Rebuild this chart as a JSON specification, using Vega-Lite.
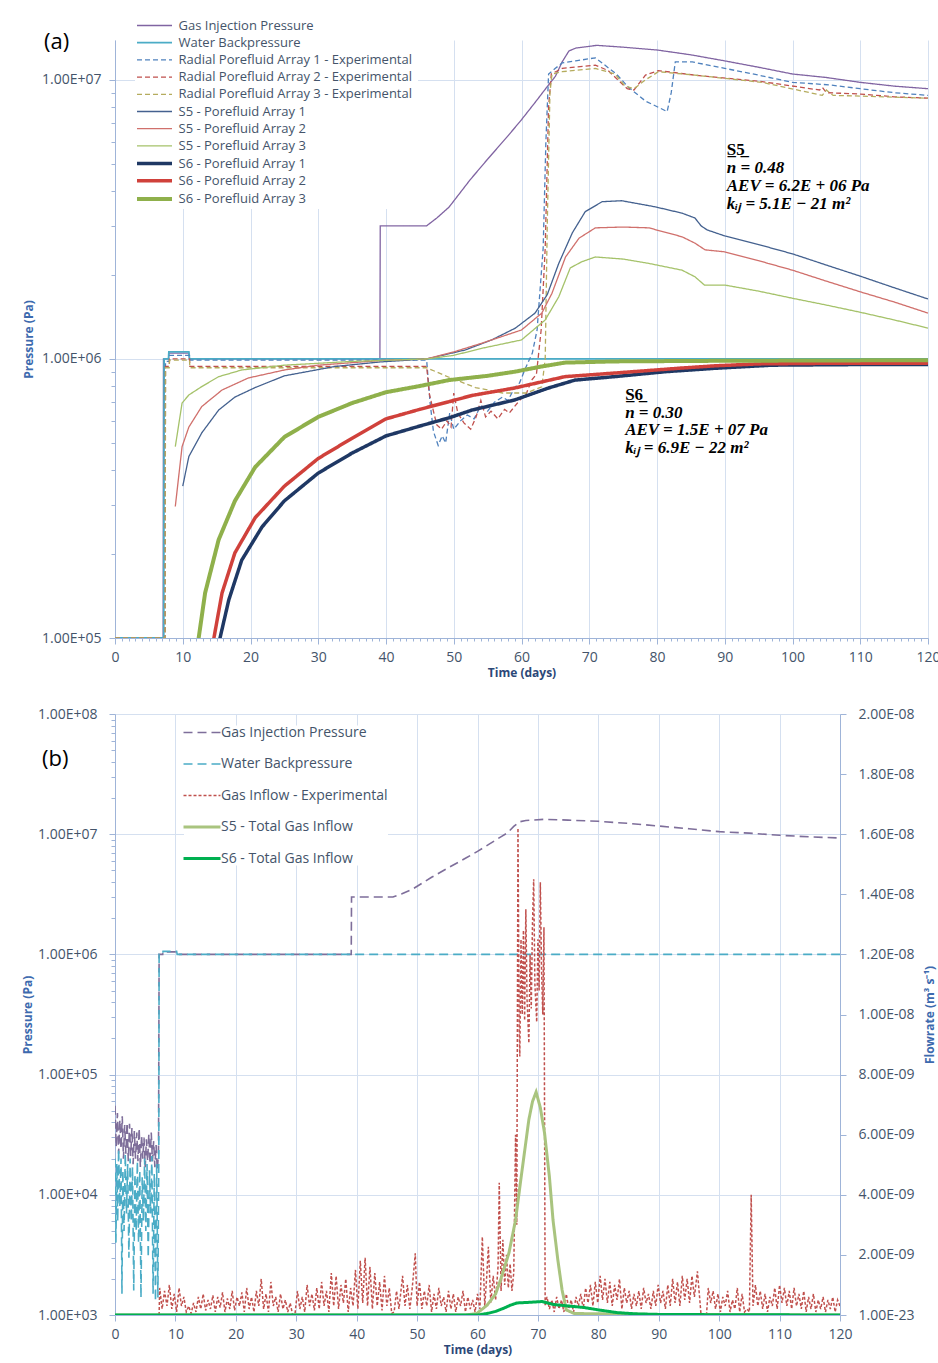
{
"$schema": "https://vega.github.io/schema/vega-lite/v6.json",
"background": "white",
"padding": {"left": 21, "top": 17, "right": 0, "bottom": 4},
"spacing": 29,
"config": {
  "view": {"stroke": null},
  "font": "Open Sans",
  "axis": {"labelFont": "Open Sans", "labelFontSize": 14, "labelColor": "#44546A", "titleFont": "Open Sans", "titleFontSize": 12, "titleFontWeight": "bold", "titleColor": "#3D6AAE", "domainColor": "#9FB4D8", "tickColor": "#9FB4D8", "gridColor": "#D5E0F0", "labelOverlap": false, "labelFlush": false}
},
"resolve": {"scale": {"color": "independent", "strokeDash": "independent", "strokeWidth": "independent"}, "legend": {"color": "independent", "strokeDash": "independent", "strokeWidth": "independent"}},
"vconcat": [
{
  "width": 813, "height": 598,
  "title": {"text": "(a)", "anchor": "start", "frame": "group", "dx": -71, "dy": 41, "fontSize": 22, "fontWeight": "normal", "color": "black", "font": "Open Sans"},
  "encoding": {
      "x": {"field": "t", "type": "quantitative", "scale": {"domain": [0, 120], "nice": false, "zero": false},
        "axis": {"title": "Time (days)", "titleColor": "#2C4878", "values": [0,1,2,3,4,5,6,7,8,9,10,11,12,13,14,15,16,17,18,19,20,21,22,23,24,25,26,27,28,29,30,31,32,33,34,35,36,37,38,39,40,41,42,43,44,45,46,47,48,49,50,51,52,53,54,55,56,57,58,59,60,61,62,63,64,65,66,67,68,69,70,71,72,73,74,75,76,77,78,79,80,81,82,83,84,85,86,87,88,89,90,91,92,93,94,95,96,97,98,99,100,101,102,103,104,105,106,107,108,109,110,111,112,113,114,115,116,117,118,119,120],
          "labelExpr": "datum.value % 10 === 0 ? datum.label : ''", "grid": true, "labelOverlap": false,
          "gridOpacity": {"condition": {"test": "datum.value % 10 === 0", "value": 1}, "value": 0},
          "tickSize": {"condition": {"test": "datum.value % 10 === 0", "value": 6}, "value": 3},
          "labelPadding": 6, "titlePadding": 3}},
      "y": {"field": "p", "type": "quantitative", "scale": {"type": "log", "domain": [100000, 13900000], "nice": false},
        "axis": {"title": "Pressure (Pa)", "labelOverlap": false, "values": [100000,200000,300000,400000,500000,600000,700000,800000,900000,1000000,2000000,3000000,4000000,5000000,6000000,7000000,8000000,9000000,10000000],
          "labelExpr": "abs(log(datum.value)/LN10 - round(log(datum.value)/LN10)) < 0.001 ? '1.00E+0' + round(log(datum.value)/LN10) : ''",
          "grid": true,
          "gridOpacity": {"condition": {"test": "abs(log(datum.value)/LN10 - round(log(datum.value)/LN10)) < 0.001", "value": 1}, "value": 0},
          "tickSize": {"condition": {"test": "abs(log(datum.value)/LN10 - round(log(datum.value)/LN10)) < 0.001", "value": 6}, "value": 4},
          "labelPadding": 8, "titlePadding": 6}}
  },
  "layer": [
  {
    "data": {"values": [
{"s":"Gas Injection Pressure","t":0,"p":1e5},{"s":"Gas Injection Pressure","t":7.1,"p":1e5},{"s":"Gas Injection Pressure","t":7.15,"p":1e6},{"s":"Gas Injection Pressure","t":7.9,"p":1e6},{"s":"Gas Injection Pressure","t":7.95,"p":1.05e6},{"s":"Gas Injection Pressure","t":10.9,"p":1.05e6},{"s":"Gas Injection Pressure","t":11,"p":1e6},{"s":"Gas Injection Pressure","t":39.1,"p":1e6},{"s":"Gas Injection Pressure","t":39.15,"p":3e6},{"s":"Gas Injection Pressure","t":46,"p":3e6},{"s":"Gas Injection Pressure","t":47.5,"p":3.2e6},{"s":"Gas Injection Pressure","t":49.3,"p":3.5e6},{"s":"Gas Injection Pressure","t":52.4,"p":4.38e6},{"s":"Gas Injection Pressure","t":55,"p":5.2e6},{"s":"Gas Injection Pressure","t":58,"p":6.3e6},{"s":"Gas Injection Pressure","t":60,"p":7.2e6},{"s":"Gas Injection Pressure","t":62,"p":8.3e6},{"s":"Gas Injection Pressure","t":64,"p":9.6e6},{"s":"Gas Injection Pressure","t":65,"p":1.03e7},{"s":"Gas Injection Pressure","t":66,"p":1.16e7},{"s":"Gas Injection Pressure","t":67,"p":1.27e7},{"s":"Gas Injection Pressure","t":68,"p":1.3e7},{"s":"Gas Injection Pressure","t":71.1,"p":1.33e7},{"s":"Gas Injection Pressure","t":75,"p":1.31e7},{"s":"Gas Injection Pressure","t":80,"p":1.28e7},{"s":"Gas Injection Pressure","t":85,"p":1.23e7},{"s":"Gas Injection Pressure","t":90,"p":1.17e7},{"s":"Gas Injection Pressure","t":95,"p":1.11e7},{"s":"Gas Injection Pressure","t":100,"p":1.05e7},{"s":"Gas Injection Pressure","t":105,"p":1.02e7},{"s":"Gas Injection Pressure","t":110,"p":9.8e6},{"s":"Gas Injection Pressure","t":115,"p":9.5e6},{"s":"Gas Injection Pressure","t":120,"p":9.3e6},
{"s":"Water Backpressure","t":0,"p":1e5},{"s":"Water Backpressure","t":7.2,"p":1e5},{"s":"Water Backpressure","t":7.25,"p":1e6},{"s":"Water Backpressure","t":7.9,"p":1e6},{"s":"Water Backpressure","t":7.95,"p":1.06e6},{"s":"Water Backpressure","t":10.9,"p":1.06e6},{"s":"Water Backpressure","t":11,"p":1e6},{"s":"Water Backpressure","t":120,"p":1e6},
{"s":"Radial Porefluid Array 1 -  Experimental","t":0,"p":1e5},{"s":"Radial Porefluid Array 1 -  Experimental","t":7.4,"p":1e5},{"s":"Radial Porefluid Array 1 -  Experimental","t":7.45,"p":9.8e5},{"s":"Radial Porefluid Array 1 -  Experimental","t":8,"p":9.8e5},{"s":"Radial Porefluid Array 1 -  Experimental","t":8.05,"p":1.03e6},{"s":"Radial Porefluid Array 1 -  Experimental","t":11,"p":1.03e6},{"s":"Radial Porefluid Array 1 -  Experimental","t":11.05,"p":9.9e5},{"s":"Radial Porefluid Array 1 -  Experimental","t":46,"p":9.9e5},{"s":"Radial Porefluid Array 1 -  Experimental","t":46.5,"p":7e5},{"s":"Radial Porefluid Array 1 -  Experimental","t":47,"p":5.5e5},{"s":"Radial Porefluid Array 1 -  Experimental","t":47.7,"p":4.9e5},{"s":"Radial Porefluid Array 1 -  Experimental","t":48.3,"p":5.3e5},{"s":"Radial Porefluid Array 1 -  Experimental","t":48.8,"p":5e5},{"s":"Radial Porefluid Array 1 -  Experimental","t":49.4,"p":6.4e5},{"s":"Radial Porefluid Array 1 -  Experimental","t":50,"p":5.6e5},{"s":"Radial Porefluid Array 1 -  Experimental","t":51,"p":6e5},{"s":"Radial Porefluid Array 1 -  Experimental","t":52,"p":6.3e5},{"s":"Radial Porefluid Array 1 -  Experimental","t":53,"p":6.1e5},{"s":"Radial Porefluid Array 1 -  Experimental","t":54,"p":6.8e5},{"s":"Radial Porefluid Array 1 -  Experimental","t":55,"p":6.5e5},{"s":"Radial Porefluid Array 1 -  Experimental","t":56,"p":7e5},{"s":"Radial Porefluid Array 1 -  Experimental","t":57.2,"p":7.3e5},{"s":"Radial Porefluid Array 1 -  Experimental","t":58,"p":7.1e5},{"s":"Radial Porefluid Array 1 -  Experimental","t":59,"p":7.9e5},{"s":"Radial Porefluid Array 1 -  Experimental","t":59.7,"p":8.2e5},{"s":"Radial Porefluid Array 1 -  Experimental","t":60.7,"p":9.4e5},{"s":"Radial Porefluid Array 1 -  Experimental","t":61.6,"p":1.05e6},{"s":"Radial Porefluid Array 1 -  Experimental","t":62.3,"p":1.27e6},{"s":"Radial Porefluid Array 1 -  Experimental","t":63.2,"p":2.5e6},{"s":"Radial Porefluid Array 1 -  Experimental","t":63.6,"p":6e6},{"s":"Radial Porefluid Array 1 -  Experimental","t":64,"p":1.05e7},{"s":"Radial Porefluid Array 1 -  Experimental","t":65,"p":1.1e7},{"s":"Radial Porefluid Array 1 -  Experimental","t":66,"p":1.15e7},{"s":"Radial Porefluid Array 1 -  Experimental","t":68,"p":1.17e7},{"s":"Radial Porefluid Array 1 -  Experimental","t":70.9,"p":1.2e7},{"s":"Radial Porefluid Array 1 -  Experimental","t":72.3,"p":1.13e7},{"s":"Radial Porefluid Array 1 -  Experimental","t":74,"p":1.05e7},{"s":"Radial Porefluid Array 1 -  Experimental","t":75.8,"p":9.4e6},{"s":"Radial Porefluid Array 1 -  Experimental","t":78.3,"p":8.4e6},{"s":"Radial Porefluid Array 1 -  Experimental","t":81.5,"p":7.7e6},{"s":"Radial Porefluid Array 1 -  Experimental","t":82.1,"p":9e6},{"s":"Radial Porefluid Array 1 -  Experimental","t":82.7,"p":1.16e7},{"s":"Radial Porefluid Array 1 -  Experimental","t":85.2,"p":1.16e7},{"s":"Radial Porefluid Array 1 -  Experimental","t":90,"p":1.1e7},{"s":"Radial Porefluid Array 1 -  Experimental","t":95,"p":1.04e7},{"s":"Radial Porefluid Array 1 -  Experimental","t":100,"p":9.8e6},{"s":"Radial Porefluid Array 1 -  Experimental","t":105.4,"p":9.6e6},{"s":"Radial Porefluid Array 1 -  Experimental","t":110,"p":9.3e6},{"s":"Radial Porefluid Array 1 -  Experimental","t":115,"p":9e6},{"s":"Radial Porefluid Array 1 -  Experimental","t":120,"p":8.8e6},
{"s":"Radial Porefluid Array 2 - Experimental","t":0,"p":1e5},{"s":"Radial Porefluid Array 2 - Experimental","t":7.4,"p":1e5},{"s":"Radial Porefluid Array 2 - Experimental","t":7.45,"p":9.4e5},{"s":"Radial Porefluid Array 2 - Experimental","t":8,"p":9.4e5},{"s":"Radial Porefluid Array 2 - Experimental","t":8.05,"p":1e6},{"s":"Radial Porefluid Array 2 - Experimental","t":11,"p":1e6},{"s":"Radial Porefluid Array 2 - Experimental","t":11.05,"p":9.4e5},{"s":"Radial Porefluid Array 2 - Experimental","t":46,"p":9.4e5},{"s":"Radial Porefluid Array 2 - Experimental","t":46.4,"p":7.5e5},{"s":"Radial Porefluid Array 2 - Experimental","t":47,"p":6.5e5},{"s":"Radial Porefluid Array 2 - Experimental","t":47.5,"p":5.8e5},{"s":"Radial Porefluid Array 2 - Experimental","t":48.2,"p":5.6e5},{"s":"Radial Porefluid Array 2 - Experimental","t":49,"p":6e5},{"s":"Radial Porefluid Array 2 - Experimental","t":49.6,"p":5.7e5},{"s":"Radial Porefluid Array 2 - Experimental","t":50,"p":7.55e5},{"s":"Radial Porefluid Array 2 - Experimental","t":50.6,"p":6.4e5},{"s":"Radial Porefluid Array 2 - Experimental","t":51.5,"p":5.9e5},{"s":"Radial Porefluid Array 2 - Experimental","t":52.5,"p":5.6e5},{"s":"Radial Porefluid Array 2 - Experimental","t":53.3,"p":6.2e5},{"s":"Radial Porefluid Array 2 - Experimental","t":54,"p":7.1e5},{"s":"Radial Porefluid Array 2 - Experimental","t":54.7,"p":6.2e5},{"s":"Radial Porefluid Array 2 - Experimental","t":55.5,"p":6.5e5},{"s":"Radial Porefluid Array 2 - Experimental","t":56.5,"p":6.1e5},{"s":"Radial Porefluid Array 2 - Experimental","t":57.5,"p":6.6e5},{"s":"Radial Porefluid Array 2 - Experimental","t":58.2,"p":6.4e5},{"s":"Radial Porefluid Array 2 - Experimental","t":59.7,"p":7.1e5},{"s":"Radial Porefluid Array 2 - Experimental","t":60.7,"p":7.5e5},{"s":"Radial Porefluid Array 2 - Experimental","t":61.5,"p":8.4e5},{"s":"Radial Porefluid Array 2 - Experimental","t":62.2,"p":8.8e5},{"s":"Radial Porefluid Array 2 - Experimental","t":62.9,"p":1.27e6},{"s":"Radial Porefluid Array 2 - Experimental","t":63.5,"p":2.5e6},{"s":"Radial Porefluid Array 2 - Experimental","t":64,"p":8e6},{"s":"Radial Porefluid Array 2 - Experimental","t":64.4,"p":1.05e7},{"s":"Radial Porefluid Array 2 - Experimental","t":66,"p":1.1e7},{"s":"Radial Porefluid Array 2 - Experimental","t":70.9,"p":1.13e7},{"s":"Radial Porefluid Array 2 - Experimental","t":72.8,"p":1.08e7},{"s":"Radial Porefluid Array 2 - Experimental","t":75.6,"p":9.3e6},{"s":"Radial Porefluid Array 2 - Experimental","t":76.6,"p":9.2e6},{"s":"Radial Porefluid Array 2 - Experimental","t":78.3,"p":1.04e7},{"s":"Radial Porefluid Array 2 - Experimental","t":80.2,"p":1.08e7},{"s":"Radial Porefluid Array 2 - Experimental","t":85.6,"p":1.04e7},{"s":"Radial Porefluid Array 2 - Experimental","t":95.5,"p":9.86e6},{"s":"Radial Porefluid Array 2 - Experimental","t":104,"p":9.2e6},{"s":"Radial Porefluid Array 2 - Experimental","t":104.4,"p":9.4e6},{"s":"Radial Porefluid Array 2 - Experimental","t":105,"p":9e6},{"s":"Radial Porefluid Array 2 - Experimental","t":110,"p":8.9e6},{"s":"Radial Porefluid Array 2 - Experimental","t":115,"p":8.7e6},{"s":"Radial Porefluid Array 2 - Experimental","t":120,"p":8.6e6},
{"s":"Radial Porefluid Array 3 - Experimental","t":0,"p":1e5},{"s":"Radial Porefluid Array 3 - Experimental","t":7.4,"p":1e5},{"s":"Radial Porefluid Array 3 - Experimental","t":7.45,"p":9.3e5},{"s":"Radial Porefluid Array 3 - Experimental","t":8,"p":9.3e5},{"s":"Radial Porefluid Array 3 - Experimental","t":8.05,"p":9.9e5},{"s":"Radial Porefluid Array 3 - Experimental","t":11,"p":9.9e5},{"s":"Radial Porefluid Array 3 - Experimental","t":11.05,"p":9.3e5},{"s":"Radial Porefluid Array 3 - Experimental","t":46,"p":9.3e5},{"s":"Radial Porefluid Array 3 - Experimental","t":49.3,"p":8.6e5},{"s":"Radial Porefluid Array 3 - Experimental","t":53.2,"p":7.9e5},{"s":"Radial Porefluid Array 3 - Experimental","t":57.2,"p":7.55e5},{"s":"Radial Porefluid Array 3 - Experimental","t":60.7,"p":7.55e5},{"s":"Radial Porefluid Array 3 - Experimental","t":63,"p":7.95e5},{"s":"Radial Porefluid Array 3 - Experimental","t":63.5,"p":1e6},{"s":"Radial Porefluid Array 3 - Experimental","t":63.8,"p":3e6},{"s":"Radial Porefluid Array 3 - Experimental","t":64.2,"p":9e6},{"s":"Radial Porefluid Array 3 - Experimental","t":64.5,"p":1.05e7},{"s":"Radial Porefluid Array 3 - Experimental","t":66,"p":1.07e7},{"s":"Radial Porefluid Array 3 - Experimental","t":70.9,"p":1.1e7},{"s":"Radial Porefluid Array 3 - Experimental","t":73.8,"p":1.05e7},{"s":"Radial Porefluid Array 3 - Experimental","t":75.3,"p":9.5e6},{"s":"Radial Porefluid Array 3 - Experimental","t":76.6,"p":9.3e6},{"s":"Radial Porefluid Array 3 - Experimental","t":78.3,"p":1e7},{"s":"Radial Porefluid Array 3 - Experimental","t":80.2,"p":1.07e7},{"s":"Radial Porefluid Array 3 - Experimental","t":85.6,"p":1.04e7},{"s":"Radial Porefluid Array 3 - Experimental","t":95.5,"p":9.8e6},{"s":"Radial Porefluid Array 3 - Experimental","t":104.4,"p":8.8e6},{"s":"Radial Porefluid Array 3 - Experimental","t":105,"p":9.2e6},{"s":"Radial Porefluid Array 3 - Experimental","t":106,"p":8.8e6},{"s":"Radial Porefluid Array 3 - Experimental","t":110,"p":8.75e6},{"s":"Radial Porefluid Array 3 - Experimental","t":120,"p":8.6e6},
{"s":"S5 - Porefluid Array 1","t":10,"p":3.5e5},{"s":"S5 - Porefluid Array 1","t":10.9,"p":4.47e5},{"s":"S5 - Porefluid Array 1","t":12.8,"p":5.43e5},{"s":"S5 - Porefluid Array 1","t":15.3,"p":6.56e5},{"s":"S5 - Porefluid Array 1","t":17.7,"p":7.3e5},{"s":"S5 - Porefluid Array 1","t":20.7,"p":7.9e5},{"s":"S5 - Porefluid Array 1","t":25,"p":8.7e5},{"s":"S5 - Porefluid Array 1","t":32.5,"p":9.4e5},{"s":"S5 - Porefluid Array 1","t":39,"p":9.75e5},{"s":"S5 - Porefluid Array 1","t":46,"p":1e6},{"s":"S5 - Porefluid Array 1","t":51.7,"p":1.077e6},{"s":"S5 - Porefluid Array 1","t":55.6,"p":1.17e6},{"s":"S5 - Porefluid Array 1","t":59.1,"p":1.29e6},{"s":"S5 - Porefluid Array 1","t":62,"p":1.46e6},{"s":"S5 - Porefluid Array 1","t":63.8,"p":1.7e6},{"s":"S5 - Porefluid Array 1","t":65.5,"p":2.2e6},{"s":"S5 - Porefluid Array 1","t":67.5,"p":2.83e6},{"s":"S5 - Porefluid Array 1","t":69.4,"p":3.37e6},{"s":"S5 - Porefluid Array 1","t":71.9,"p":3.66e6},{"s":"S5 - Porefluid Array 1","t":74.8,"p":3.69e6},{"s":"S5 - Porefluid Array 1","t":79.7,"p":3.51e6},{"s":"S5 - Porefluid Array 1","t":83.7,"p":3.33e6},{"s":"S5 - Porefluid Array 1","t":85.6,"p":3.2e6},{"s":"S5 - Porefluid Array 1","t":86.5,"p":3e6},{"s":"S5 - Porefluid Array 1","t":87.4,"p":2.9e6},{"s":"S5 - Porefluid Array 1","t":90,"p":2.76e6},{"s":"S5 - Porefluid Array 1","t":95,"p":2.57e6},{"s":"S5 - Porefluid Array 1","t":100,"p":2.38e6},{"s":"S5 - Porefluid Array 1","t":105,"p":2.17e6},{"s":"S5 - Porefluid Array 1","t":110,"p":1.98e6},{"s":"S5 - Porefluid Array 1","t":115,"p":1.8e6},{"s":"S5 - Porefluid Array 1","t":120,"p":1.64e6},
{"s":"S5 - Porefluid Array 2","t":8.9,"p":2.96e5},{"s":"S5 - Porefluid Array 2","t":9.9,"p":4.85e5},{"s":"S5 - Porefluid Array 2","t":10.9,"p":5.7e5},{"s":"S5 - Porefluid Array 2","t":12.8,"p":6.75e5},{"s":"S5 - Porefluid Array 2","t":15.8,"p":7.74e5},{"s":"S5 - Porefluid Array 2","t":19.7,"p":8.55e5},{"s":"S5 - Porefluid Array 2","t":25,"p":9.13e5},{"s":"S5 - Porefluid Array 2","t":30,"p":9.5e5},{"s":"S5 - Porefluid Array 2","t":40,"p":9.9e5},{"s":"S5 - Porefluid Array 2","t":46,"p":1e6},{"s":"S5 - Porefluid Array 2","t":50,"p":1.06e6},{"s":"S5 - Porefluid Array 2","t":54.2,"p":1.14e6},{"s":"S5 - Porefluid Array 2","t":60,"p":1.27e6},{"s":"S5 - Porefluid Array 2","t":63,"p":1.46e6},{"s":"S5 - Porefluid Array 2","t":64.5,"p":1.72e6},{"s":"S5 - Porefluid Array 2","t":66.5,"p":2.32e6},{"s":"S5 - Porefluid Array 2","t":68.5,"p":2.71e6},{"s":"S5 - Porefluid Array 2","t":70.9,"p":2.95e6},{"s":"S5 - Porefluid Array 2","t":75,"p":2.97e6},{"s":"S5 - Porefluid Array 2","t":78.8,"p":2.95e6},{"s":"S5 - Porefluid Array 2","t":83.7,"p":2.74e6},{"s":"S5 - Porefluid Array 2","t":85.6,"p":2.6e6},{"s":"S5 - Porefluid Array 2","t":87.1,"p":2.46e6},{"s":"S5 - Porefluid Array 2","t":90,"p":2.42e6},{"s":"S5 - Porefluid Array 2","t":95,"p":2.25e6},{"s":"S5 - Porefluid Array 2","t":100,"p":2.08e6},{"s":"S5 - Porefluid Array 2","t":105,"p":1.9e6},{"s":"S5 - Porefluid Array 2","t":110,"p":1.74e6},{"s":"S5 - Porefluid Array 2","t":115,"p":1.6e6},{"s":"S5 - Porefluid Array 2","t":120,"p":1.46e6},
{"s":"S5 - Porefluid Array 3","t":8.9,"p":4.85e5},{"s":"S5 - Porefluid Array 3","t":9.9,"p":6.95e5},{"s":"S5 - Porefluid Array 3","t":10.9,"p":7.43e5},{"s":"S5 - Porefluid Array 3","t":12.8,"p":7.96e5},{"s":"S5 - Porefluid Array 3","t":15.3,"p":8.64e5},{"s":"S5 - Porefluid Array 3","t":18.7,"p":9.13e5},{"s":"S5 - Porefluid Array 3","t":25,"p":9.5e5},{"s":"S5 - Porefluid Array 3","t":35,"p":9.8e5},{"s":"S5 - Porefluid Array 3","t":46,"p":1e6},{"s":"S5 - Porefluid Array 3","t":50,"p":1.03e6},{"s":"S5 - Porefluid Array 3","t":54,"p":1.09e6},{"s":"S5 - Porefluid Array 3","t":60,"p":1.17e6},{"s":"S5 - Porefluid Array 3","t":63.5,"p":1.38e6},{"s":"S5 - Porefluid Array 3","t":65.5,"p":1.67e6},{"s":"S5 - Porefluid Array 3","t":67.2,"p":2.12e6},{"s":"S5 - Porefluid Array 3","t":68.9,"p":2.23e6},{"s":"S5 - Porefluid Array 3","t":70.9,"p":2.32e6},{"s":"S5 - Porefluid Array 3","t":75,"p":2.28e6},{"s":"S5 - Porefluid Array 3","t":78.8,"p":2.2e6},{"s":"S5 - Porefluid Array 3","t":83.7,"p":2.08e6},{"s":"S5 - Porefluid Array 3","t":85.6,"p":1.97e6},{"s":"S5 - Porefluid Array 3","t":87,"p":1.84e6},{"s":"S5 - Porefluid Array 3","t":90,"p":1.84e6},{"s":"S5 - Porefluid Array 3","t":95,"p":1.75e6},{"s":"S5 - Porefluid Array 3","t":100,"p":1.65e6},{"s":"S5 - Porefluid Array 3","t":105,"p":1.56e6},{"s":"S5 - Porefluid Array 3","t":110,"p":1.47e6},{"s":"S5 - Porefluid Array 3","t":115,"p":1.38e6},{"s":"S5 - Porefluid Array 3","t":120,"p":1.29e6},
{"s":"S6 - Porefluid Array 1","t":15.2,"p":7e4},{"s":"S6 - Porefluid Array 1","t":15.5,"p":1e5},{"s":"S6 - Porefluid Array 1","t":16.8,"p":1.37e5},{"s":"S6 - Porefluid Array 1","t":18.7,"p":1.9e5},{"s":"S6 - Porefluid Array 1","t":21.7,"p":2.5e5},{"s":"S6 - Porefluid Array 1","t":25,"p":3.1e5},{"s":"S6 - Porefluid Array 1","t":30,"p":3.9e5},{"s":"S6 - Porefluid Array 1","t":35,"p":4.6e5},{"s":"S6 - Porefluid Array 1","t":40,"p":5.3e5},{"s":"S6 - Porefluid Array 1","t":45,"p":5.75e5},{"s":"S6 - Porefluid Array 1","t":49.3,"p":6.15e5},{"s":"S6 - Porefluid Array 1","t":52.7,"p":6.56e5},{"s":"S6 - Porefluid Array 1","t":59,"p":7.13e5},{"s":"S6 - Porefluid Array 1","t":64,"p":7.87e5},{"s":"S6 - Porefluid Array 1","t":67.9,"p":8.4e5},{"s":"S6 - Porefluid Array 1","t":73.7,"p":8.64e5},{"s":"S6 - Porefluid Array 1","t":81.2,"p":9e5},{"s":"S6 - Porefluid Array 1","t":88.6,"p":9.26e5},{"s":"S6 - Porefluid Array 1","t":97,"p":9.5e5},{"s":"S6 - Porefluid Array 1","t":110,"p":9.55e5},{"s":"S6 - Porefluid Array 1","t":120,"p":9.55e5},
{"s":"S6 - Porefluid Array 2","t":14.3,"p":7e4},{"s":"S6 - Porefluid Array 2","t":14.6,"p":1e5},{"s":"S6 - Porefluid Array 2","t":15.8,"p":1.45e5},{"s":"S6 - Porefluid Array 2","t":17.7,"p":2.02e5},{"s":"S6 - Porefluid Array 2","t":20.7,"p":2.7e5},{"s":"S6 - Porefluid Array 2","t":25,"p":3.5e5},{"s":"S6 - Porefluid Array 2","t":30,"p":4.4e5},{"s":"S6 - Porefluid Array 2","t":35,"p":5.2e5},{"s":"S6 - Porefluid Array 2","t":40,"p":6.1e5},{"s":"S6 - Porefluid Array 2","t":45,"p":6.6e5},{"s":"S6 - Porefluid Array 2","t":49.3,"p":7.03e5},{"s":"S6 - Porefluid Array 2","t":52.7,"p":7.4e5},{"s":"S6 - Porefluid Array 2","t":59,"p":7.87e5},{"s":"S6 - Porefluid Array 2","t":66.4,"p":8.64e5},{"s":"S6 - Porefluid Array 2","t":73.7,"p":8.9e5},{"s":"S6 - Porefluid Array 2","t":83.7,"p":9.28e5},{"s":"S6 - Porefluid Array 2","t":88.6,"p":9.45e5},{"s":"S6 - Porefluid Array 2","t":95,"p":9.6e5},{"s":"S6 - Porefluid Array 2","t":105,"p":9.65e5},{"s":"S6 - Porefluid Array 2","t":120,"p":9.65e5},
{"s":"S6 - Porefluid Array 3","t":12.1,"p":7e4},{"s":"S6 - Porefluid Array 3","t":12.35,"p":1e5},{"s":"S6 - Porefluid Array 3","t":13.3,"p":1.45e5},{"s":"S6 - Porefluid Array 3","t":15.3,"p":2.25e5},{"s":"S6 - Porefluid Array 3","t":17.7,"p":3.1e5},{"s":"S6 - Porefluid Array 3","t":20.7,"p":4.1e5},{"s":"S6 - Porefluid Array 3","t":25,"p":5.25e5},{"s":"S6 - Porefluid Array 3","t":30,"p":6.2e5},{"s":"S6 - Porefluid Array 3","t":35,"p":6.95e5},{"s":"S6 - Porefluid Array 3","t":40,"p":7.6e5},{"s":"S6 - Porefluid Array 3","t":45,"p":8e5},{"s":"S6 - Porefluid Array 3","t":49.3,"p":8.4e5},{"s":"S6 - Porefluid Array 3","t":55,"p":8.7e5},{"s":"S6 - Porefluid Array 3","t":59,"p":9e5},{"s":"S6 - Porefluid Array 3","t":63,"p":9.4e5},{"s":"S6 - Porefluid Array 3","t":66.4,"p":9.7e5},{"s":"S6 - Porefluid Array 3","t":73.7,"p":9.8e5},{"s":"S6 - Porefluid Array 3","t":90,"p":9.85e5},{"s":"S6 - Porefluid Array 3","t":120,"p":9.9e5}
    ]},
    "mark": {"type": "line", "clip": true},
    "encoding": {
      "color": {"field": "s", "type": "nominal",
        "scale": {"domain": ["Gas Injection Pressure","Water Backpressure","Radial Porefluid Array 1 -  Experimental","Radial Porefluid Array 2 - Experimental","Radial Porefluid Array 3 - Experimental","S5 - Porefluid Array 1","S5 - Porefluid Array 2","S5 - Porefluid Array 3","S6 - Porefluid Array 1","S6 - Porefluid Array 2","S6 - Porefluid Array 3"],
          "range": ["#8064A2","#4BACC6","#4F81BD","#C0504D","#B5AC5E","#44618F","#D0706C","#A5C26A","#1F3864","#D0413B","#8FB04B"]},
        "legend": {"orient": "none", "legendX": 20, "legendY": -23, "title": null, "fillColor": "white", "padding": 2, "symbolType": "M-3.5,0H3.5", "symbolSize": 100, "symbolOffset": 10.5, "labelFontSize": 13, "labelFont": "Open Sans", "labelColor": "#44546A", "rowPadding": 3.2, "labelOffset": 17, "labelLimit": 400}},
      "strokeDash": {"field": "s", "type": "nominal",
        "scale": {"domain": ["Gas Injection Pressure","Water Backpressure","Radial Porefluid Array 1 -  Experimental","Radial Porefluid Array 2 - Experimental","Radial Porefluid Array 3 - Experimental","S5 - Porefluid Array 1","S5 - Porefluid Array 2","S5 - Porefluid Array 3","S6 - Porefluid Array 1","S6 - Porefluid Array 2","S6 - Porefluid Array 3"],
          "range": [[1,0],[1,0],[5,3],[5,3],[5,3],[1,0],[1,0],[1,0],[1,0],[1,0],[1,0]]}},
      "strokeWidth": {"field": "s", "type": "nominal",
        "scale": {"type": "ordinal", "domain": ["Gas Injection Pressure","Water Backpressure","Radial Porefluid Array 1 -  Experimental","Radial Porefluid Array 2 - Experimental","Radial Porefluid Array 3 - Experimental","S5 - Porefluid Array 1","S5 - Porefluid Array 2","S5 - Porefluid Array 3","S6 - Porefluid Array 1","S6 - Porefluid Array 2","S6 - Porefluid Array 3"],
          "range": [1.3,1.8,1.3,1.3,1.3,1.3,1.3,1.3,3.5,3.5,4]}}
    }
  },
  {
    "data": {"values": [{"t":90.3,"p":5610000,"txt":"S̲5̲"},{"t":75.3,"p":743000,"txt":"S̲6̲"}]},
    "mark": {"type": "text", "align": "left", "baseline": "middle", "font": "Liberation Serif", "fontSize": 17, "fontWeight": "bold", "color": "black"},
    "encoding": {"text": {"field": "txt"}}
  },
  {
    "data": {"values": [
      {"t":90.3,"p":4840000,"txt":"n = 0.48"},{"t":90.3,"p":4170000,"txt":"AEV = 6.2E + 06 Pa"},{"t":90.3,"p":3590000,"txt":"kᵢⱼ = 5.1E − 21 m²"},
      {"t":75.3,"p":642000,"txt":"n = 0.30"},{"t":75.3,"p":557000,"txt":"AEV = 1.5E + 07 Pa"},{"t":75.3,"p":479000,"txt":"kᵢⱼ = 6.9E − 22 m²"}]},
    "mark": {"type": "text", "align": "left", "baseline": "middle", "font": "Liberation Serif", "fontSize": 17, "fontWeight": "bold", "fontStyle": "italic", "color": "black"},
    "encoding": {"text": {"field": "txt"}}
  }
  ]
},
{
  "width": 725, "height": 601,
  "title": {"text": "(b)", "anchor": "start", "frame": "group", "dx": -73, "dy": 68, "fontSize": 22, "fontWeight": "normal", "color": "black", "font": "Open Sans"},
  "resolve": {"scale": {"y": "independent"}, "axis": {"y": "independent"}},
  "layer": [
  {
    "data": {"values": [
{"s":"Gas Injection Pressure","t":0,"p":55000},{"s":"Gas Injection Pressure","t":0.2,"p":25000},{"s":"Gas Injection Pressure","t":0.4,"p":48000},{"s":"Gas Injection Pressure","t":0.6,"p":22000},{"s":"Gas Injection Pressure","t":0.8,"p":42000},{"s":"Gas Injection Pressure","t":1,"p":24000},{"s":"Gas Injection Pressure","t":1.2,"p":45000},{"s":"Gas Injection Pressure","t":1.4,"p":20000},{"s":"Gas Injection Pressure","t":1.6,"p":38000},{"s":"Gas Injection Pressure","t":1.8,"p":22000},{"s":"Gas Injection Pressure","t":2,"p":40000},{"s":"Gas Injection Pressure","t":2.2,"p":19000},{"s":"Gas Injection Pressure","t":2.4,"p":39000},{"s":"Gas Injection Pressure","t":2.6,"p":21000},{"s":"Gas Injection Pressure","t":2.8,"p":36000},{"s":"Gas Injection Pressure","t":3,"p":18000},{"s":"Gas Injection Pressure","t":3.2,"p":34000},{"s":"Gas Injection Pressure","t":3.4,"p":20000},{"s":"Gas Injection Pressure","t":3.6,"p":33000},{"s":"Gas Injection Pressure","t":3.8,"p":19000},{"s":"Gas Injection Pressure","t":4,"p":36000},{"s":"Gas Injection Pressure","t":4.2,"p":17000},{"s":"Gas Injection Pressure","t":4.4,"p":31000},{"s":"Gas Injection Pressure","t":4.6,"p":20000},{"s":"Gas Injection Pressure","t":4.8,"p":30000},{"s":"Gas Injection Pressure","t":5,"p":17000},{"s":"Gas Injection Pressure","t":5.2,"p":29000},{"s":"Gas Injection Pressure","t":5.4,"p":19000},{"s":"Gas Injection Pressure","t":5.6,"p":32000},{"s":"Gas Injection Pressure","t":5.8,"p":18000},{"s":"Gas Injection Pressure","t":6,"p":33000},{"s":"Gas Injection Pressure","t":6.2,"p":19000},{"s":"Gas Injection Pressure","t":6.4,"p":28000},{"s":"Gas Injection Pressure","t":6.6,"p":17000},{"s":"Gas Injection Pressure","t":6.8,"p":26000},{"s":"Gas Injection Pressure","t":7,"p":16000},{"s":"Gas Injection Pressure","t":7.2,"p":22000},{"s":"Gas Injection Pressure","t":7.3,"p":1e6},{"s":"Gas Injection Pressure","t":7.9,"p":1e6},{"s":"Gas Injection Pressure","t":7.95,"p":1.05e6},{"s":"Gas Injection Pressure","t":10.2,"p":1.05e6},{"s":"Gas Injection Pressure","t":10.3,"p":1e6},{"s":"Gas Injection Pressure","t":39.1,"p":1e6},{"s":"Gas Injection Pressure","t":39.15,"p":3e6},{"s":"Gas Injection Pressure","t":46,"p":3e6},{"s":"Gas Injection Pressure","t":47.5,"p":3.2e6},{"s":"Gas Injection Pressure","t":49.3,"p":3.5e6},{"s":"Gas Injection Pressure","t":52.4,"p":4.38e6},{"s":"Gas Injection Pressure","t":55,"p":5.2e6},{"s":"Gas Injection Pressure","t":58,"p":6.3e6},{"s":"Gas Injection Pressure","t":60,"p":7.2e6},{"s":"Gas Injection Pressure","t":62,"p":8.3e6},{"s":"Gas Injection Pressure","t":64,"p":9.6e6},{"s":"Gas Injection Pressure","t":65,"p":1.03e7},{"s":"Gas Injection Pressure","t":66,"p":1.16e7},{"s":"Gas Injection Pressure","t":67,"p":1.27e7},{"s":"Gas Injection Pressure","t":68,"p":1.3e7},{"s":"Gas Injection Pressure","t":71.1,"p":1.33e7},{"s":"Gas Injection Pressure","t":75,"p":1.31e7},{"s":"Gas Injection Pressure","t":80,"p":1.28e7},{"s":"Gas Injection Pressure","t":85,"p":1.23e7},{"s":"Gas Injection Pressure","t":90,"p":1.17e7},{"s":"Gas Injection Pressure","t":95,"p":1.11e7},{"s":"Gas Injection Pressure","t":100,"p":1.05e7},{"s":"Gas Injection Pressure","t":105,"p":1.02e7},{"s":"Gas Injection Pressure","t":110,"p":9.8e6},{"s":"Gas Injection Pressure","t":115,"p":9.5e6},{"s":"Gas Injection Pressure","t":120,"p":9.3e6},
{"s":"Water Backpressure","t":0,"p":20000},{"s":"Water Backpressure","t":0.15,"p":4000},{"s":"Water Backpressure","t":0.3,"p":18000},{"s":"Water Backpressure","t":0.45,"p":6000},{"s":"Water Backpressure","t":0.6,"p":24000},{"s":"Water Backpressure","t":0.8,"p":8000},{"s":"Water Backpressure","t":1,"p":20000},{"s":"Water Backpressure","t":1.15,"p":1500},{"s":"Water Backpressure","t":1.3,"p":16000},{"s":"Water Backpressure","t":1.5,"p":5000},{"s":"Water Backpressure","t":1.7,"p":22000},{"s":"Water Backpressure","t":1.9,"p":7000},{"s":"Water Backpressure","t":2.1,"p":18000},{"s":"Water Backpressure","t":2.3,"p":3000},{"s":"Water Backpressure","t":2.5,"p":20000},{"s":"Water Backpressure","t":2.7,"p":6000},{"s":"Water Backpressure","t":2.9,"p":17000},{"s":"Water Backpressure","t":3.1,"p":1600},{"s":"Water Backpressure","t":3.3,"p":15000},{"s":"Water Backpressure","t":3.5,"p":5000},{"s":"Water Backpressure","t":3.7,"p":19000},{"s":"Water Backpressure","t":3.9,"p":4000},{"s":"Water Backpressure","t":4.1,"p":16000},{"s":"Water Backpressure","t":4.3,"p":1400},{"s":"Water Backpressure","t":4.5,"p":14000},{"s":"Water Backpressure","t":4.7,"p":6000},{"s":"Water Backpressure","t":4.9,"p":20000},{"s":"Water Backpressure","t":5.1,"p":5000},{"s":"Water Backpressure","t":5.3,"p":18000},{"s":"Water Backpressure","t":5.5,"p":3000},{"s":"Water Backpressure","t":5.7,"p":16000},{"s":"Water Backpressure","t":5.9,"p":7000},{"s":"Water Backpressure","t":6.1,"p":21000},{"s":"Water Backpressure","t":6.3,"p":1500},{"s":"Water Backpressure","t":6.5,"p":15000},{"s":"Water Backpressure","t":6.7,"p":1300},{"s":"Water Backpressure","t":6.9,"p":18000},{"s":"Water Backpressure","t":7.1,"p":1400},{"s":"Water Backpressure","t":7.25,"p":20000},{"s":"Water Backpressure","t":7.3,"p":1e6},{"s":"Water Backpressure","t":7.9,"p":1e6},{"s":"Water Backpressure","t":7.95,"p":1.06e6},{"s":"Water Backpressure","t":10.2,"p":1.06e6},{"s":"Water Backpressure","t":10.3,"p":1e6},{"s":"Water Backpressure","t":120,"p":1e6}
    ]},
    "mark": {"type": "line", "clip": true},
    "encoding": {
      "x": {"field": "t", "type": "quantitative", "scale": {"domain": [0, 120], "nice": false, "zero": false},
        "axis": {"title": "Time (days)", "titleColor": "#2C4878", "values": [0,10,20,30,40,50,60,70,80,90,100,110,120], "grid": true, "labelOverlap": false, "tickSize": 6, "labelPadding": 6, "titlePadding": 3}},
      "y": {"field": "p", "type": "quantitative", "scale": {"type": "log", "domain": [1000, 100000000], "nice": false},
        "axis": {"title": "Pressure (Pa)", "labelOverlap": false, "values": [1000,2000,3000,4000,5000,6000,7000,8000,9000,10000,20000,30000,40000,50000,60000,70000,80000,90000,100000,200000,300000,400000,500000,600000,700000,800000,900000,1000000,2000000,3000000,4000000,5000000,6000000,7000000,8000000,9000000,10000000,20000000,30000000,40000000,50000000,60000000,70000000,80000000,90000000,100000000],
          "labelExpr": "abs(log(datum.value)/LN10 - round(log(datum.value)/LN10)) < 0.001 ? '1.00E+0' + round(log(datum.value)/LN10) : ''",
          "grid": true,
          "gridOpacity": {"condition": {"test": "abs(log(datum.value)/LN10 - round(log(datum.value)/LN10)) < 0.001", "value": 1}, "value": 0},
          "tickSize": {"condition": {"test": "abs(log(datum.value)/LN10 - round(log(datum.value)/LN10)) < 0.001", "value": 6}, "value": 4},
          "labelPadding": 12, "titlePadding": 3}},
      "color": {"field": "s", "type": "nominal",
        "scale": {"domain": ["Gas Injection Pressure","Water Backpressure","Gas Inflow - Experimental","S5 - Total Gas Inflow","S6 - Total Gas Inflow"], "range": ["#7E6E9A","#4BACC6","#C0504D","#A9C47F","#00B050"]},
        "legend": {"orient": "none", "legendX": 69, "legendY": 11.5, "title": null, "fillColor": "white", "padding": 0, "symbolType": "M-3.7,0H3.7", "symbolSize": 100, "symbolOffset": 11, "labelFontSize": 14, "labelFont": "Open Sans", "labelColor": "#44546A", "rowPadding": 17.5, "labelOffset": 12, "labelLimit": 400}},
      "strokeDash": {"field": "s", "type": "nominal",
        "scale": {"domain": ["Gas Injection Pressure","Water Backpressure","Gas Inflow - Experimental","S5 - Total Gas Inflow","S6 - Total Gas Inflow"], "range": [[9,5],[9,5],[3,2],[1,0],[1,0]]}},
      "strokeWidth": {"field": "s", "type": "nominal",
        "scale": {"type": "ordinal", "domain": ["Gas Injection Pressure","Water Backpressure","Gas Inflow - Experimental","S5 - Total Gas Inflow","S6 - Total Gas Inflow"], "range": [1.6,1.6,1.5,3,3]}}
    }
  },
  {
    "data": {"values": [
{"s":"Gas Inflow - Experimental","t":7.3,"q":0},{"s":"Gas Inflow - Experimental","t":7.4,"q":9e-10},{"s":"Gas Inflow - Experimental","t":7.8,"q":2e-10},{"s":"Gas Inflow - Experimental","t":8.2,"q":8e-10},{"s":"Gas Inflow - Experimental","t":8.6,"q":3e-10},{"s":"Gas Inflow - Experimental","t":9,"q":1e-9},{"s":"Gas Inflow - Experimental","t":9.4,"q":2e-10},{"s":"Gas Inflow - Experimental","t":9.8,"q":7e-10},{"s":"Gas Inflow - Experimental","t":10.2,"q":1e-10},{"s":"Gas Inflow - Experimental","t":10.6,"q":9e-10},{"s":"Gas Inflow - Experimental","t":11,"q":3e-10},{"s":"Gas Inflow - Experimental","t":11.4,"q":6e-10},{"s":"Gas Inflow - Experimental","t":11.8,"q":1e-10},{"s":"Gas Inflow - Experimental","t":12.2,"q":3e-10},{"s":"Gas Inflow - Experimental","t":12.6,"q":5e-11},{"s":"Gas Inflow - Experimental","t":13,"q":4e-10},{"s":"Gas Inflow - Experimental","t":13.4,"q":1e-10},{"s":"Gas Inflow - Experimental","t":13.8,"q":6e-10},{"s":"Gas Inflow - Experimental","t":14.2,"q":2e-10},{"s":"Gas Inflow - Experimental","t":14.6,"q":7e-10},{"s":"Gas Inflow - Experimental","t":15,"q":1.5e-10},{"s":"Gas Inflow - Experimental","t":15.4,"q":5e-10},{"s":"Gas Inflow - Experimental","t":15.8,"q":2e-10},{"s":"Gas Inflow - Experimental","t":16.2,"q":6.5e-10},{"s":"Gas Inflow - Experimental","t":16.6,"q":1e-10},{"s":"Gas Inflow - Experimental","t":17,"q":6e-10},{"s":"Gas Inflow - Experimental","t":17.4,"q":2.5e-10},{"s":"Gas Inflow - Experimental","t":17.8,"q":7.5e-10},{"s":"Gas Inflow - Experimental","t":18.2,"q":1e-10},{"s":"Gas Inflow - Experimental","t":18.6,"q":5.5e-10},{"s":"Gas Inflow - Experimental","t":19,"q":2e-10},{"s":"Gas Inflow - Experimental","t":19.4,"q":8e-10},{"s":"Gas Inflow - Experimental","t":19.8,"q":1.5e-10},{"s":"Gas Inflow - Experimental","t":20.2,"q":6e-10},{"s":"Gas Inflow - Experimental","t":20.6,"q":3e-10},{"s":"Gas Inflow - Experimental","t":21,"q":7.5e-10},{"s":"Gas Inflow - Experimental","t":21.4,"q":1e-10},{"s":"Gas Inflow - Experimental","t":21.8,"q":9e-10},{"s":"Gas Inflow - Experimental","t":22.2,"q":2e-10},{"s":"Gas Inflow - Experimental","t":22.6,"q":6e-10},{"s":"Gas Inflow - Experimental","t":23,"q":1e-10},{"s":"Gas Inflow - Experimental","t":23.4,"q":8e-10},{"s":"Gas Inflow - Experimental","t":23.8,"q":3e-10},{"s":"Gas Inflow - Experimental","t":24.2,"q":1.2e-9},{"s":"Gas Inflow - Experimental","t":24.6,"q":2e-10},{"s":"Gas Inflow - Experimental","t":25,"q":7e-10},{"s":"Gas Inflow - Experimental","t":25.4,"q":1e-10},{"s":"Gas Inflow - Experimental","t":25.8,"q":1.1e-9},{"s":"Gas Inflow - Experimental","t":26.2,"q":3e-10},{"s":"Gas Inflow - Experimental","t":26.6,"q":6e-10},{"s":"Gas Inflow - Experimental","t":27,"q":1e-10},{"s":"Gas Inflow - Experimental","t":27.4,"q":7e-10},{"s":"Gas Inflow - Experimental","t":27.8,"q":2e-10},{"s":"Gas Inflow - Experimental","t":28.2,"q":5e-10},{"s":"Gas Inflow - Experimental","t":28.6,"q":1e-10},{"s":"Gas Inflow - Experimental","t":29,"q":4e-10},{"s":"Gas Inflow - Experimental","t":29.4,"q":0},{"s":"Gas Inflow - Experimental","t":29.8,"q":5e-11},{"s":"Gas Inflow - Experimental","t":30.2,"q":8e-10},{"s":"Gas Inflow - Experimental","t":30.6,"q":2e-10},{"s":"Gas Inflow - Experimental","t":31,"q":6e-10},{"s":"Gas Inflow - Experimental","t":31.4,"q":1e-10},{"s":"Gas Inflow - Experimental","t":31.8,"q":1e-9},{"s":"Gas Inflow - Experimental","t":32.2,"q":3e-10},{"s":"Gas Inflow - Experimental","t":32.6,"q":7e-10},{"s":"Gas Inflow - Experimental","t":33,"q":1.5e-10},{"s":"Gas Inflow - Experimental","t":33.4,"q":9e-10},{"s":"Gas Inflow - Experimental","t":33.8,"q":2e-10},{"s":"Gas Inflow - Experimental","t":34.2,"q":1.1e-9},{"s":"Gas Inflow - Experimental","t":34.6,"q":3e-10},{"s":"Gas Inflow - Experimental","t":35,"q":8e-10},{"s":"Gas Inflow - Experimental","t":35.4,"q":1e-10},{"s":"Gas Inflow - Experimental","t":35.8,"q":1.4e-9},{"s":"Gas Inflow - Experimental","t":36.2,"q":3e-10},{"s":"Gas Inflow - Experimental","t":36.6,"q":1.3e-9},{"s":"Gas Inflow - Experimental","t":37,"q":2e-10},{"s":"Gas Inflow - Experimental","t":37.4,"q":1e-9},{"s":"Gas Inflow - Experimental","t":37.8,"q":4e-10},{"s":"Gas Inflow - Experimental","t":38.2,"q":1.2e-9},{"s":"Gas Inflow - Experimental","t":38.6,"q":1e-10},{"s":"Gas Inflow - Experimental","t":39,"q":9e-10},{"s":"Gas Inflow - Experimental","t":39.4,"q":3e-10},{"s":"Gas Inflow - Experimental","t":39.8,"q":1.5e-9},{"s":"Gas Inflow - Experimental","t":40.2,"q":2e-10},{"s":"Gas Inflow - Experimental","t":40.6,"q":1.8e-9},{"s":"Gas Inflow - Experimental","t":41,"q":4e-10},{"s":"Gas Inflow - Experimental","t":41.4,"q":1.9e-9},{"s":"Gas Inflow - Experimental","t":41.8,"q":3e-10},{"s":"Gas Inflow - Experimental","t":42.2,"q":1.6e-9},{"s":"Gas Inflow - Experimental","t":42.6,"q":2e-10},{"s":"Gas Inflow - Experimental","t":43,"q":1.4e-9},{"s":"Gas Inflow - Experimental","t":43.4,"q":3e-10},{"s":"Gas Inflow - Experimental","t":43.8,"q":1.1e-9},{"s":"Gas Inflow - Experimental","t":44.2,"q":1.5e-10},{"s":"Gas Inflow - Experimental","t":44.6,"q":1.3e-9},{"s":"Gas Inflow - Experimental","t":45,"q":3e-10},{"s":"Gas Inflow - Experimental","t":45.4,"q":9e-10},{"s":"Gas Inflow - Experimental","t":45.8,"q":5e-11},{"s":"Gas Inflow - Experimental","t":46.2,"q":1e-10},{"s":"Gas Inflow - Experimental","t":46.6,"q":8e-10},{"s":"Gas Inflow - Experimental","t":47,"q":2e-10},{"s":"Gas Inflow - Experimental","t":47.6,"q":1.3e-9},{"s":"Gas Inflow - Experimental","t":48,"q":3e-10},{"s":"Gas Inflow - Experimental","t":48.4,"q":1e-9},{"s":"Gas Inflow - Experimental","t":48.8,"q":2e-10},{"s":"Gas Inflow - Experimental","t":49.2,"q":9e-10},{"s":"Gas Inflow - Experimental","t":49.7,"q":2.05e-9},{"s":"Gas Inflow - Experimental","t":50,"q":3e-10},{"s":"Gas Inflow - Experimental","t":50.4,"q":1.1e-9},{"s":"Gas Inflow - Experimental","t":50.8,"q":2e-10},{"s":"Gas Inflow - Experimental","t":51.2,"q":8e-10},{"s":"Gas Inflow - Experimental","t":51.6,"q":3e-10},{"s":"Gas Inflow - Experimental","t":52,"q":1e-9},{"s":"Gas Inflow - Experimental","t":52.4,"q":1e-10},{"s":"Gas Inflow - Experimental","t":52.8,"q":7e-10},{"s":"Gas Inflow - Experimental","t":53.2,"q":2e-10},{"s":"Gas Inflow - Experimental","t":53.6,"q":9e-10},{"s":"Gas Inflow - Experimental","t":54,"q":3e-10},{"s":"Gas Inflow - Experimental","t":54.4,"q":6e-10},{"s":"Gas Inflow - Experimental","t":54.8,"q":1e-10},{"s":"Gas Inflow - Experimental","t":55.2,"q":8e-10},{"s":"Gas Inflow - Experimental","t":55.6,"q":2e-10},{"s":"Gas Inflow - Experimental","t":56,"q":7e-10},{"s":"Gas Inflow - Experimental","t":56.4,"q":1e-10},{"s":"Gas Inflow - Experimental","t":56.8,"q":6e-10},{"s":"Gas Inflow - Experimental","t":57.2,"q":3e-10},{"s":"Gas Inflow - Experimental","t":57.6,"q":8e-10},{"s":"Gas Inflow - Experimental","t":58,"q":1e-10},{"s":"Gas Inflow - Experimental","t":58.4,"q":6e-10},{"s":"Gas Inflow - Experimental","t":58.8,"q":2e-10},{"s":"Gas Inflow - Experimental","t":59.2,"q":5e-10},{"s":"Gas Inflow - Experimental","t":59.6,"q":1e-10},{"s":"Gas Inflow - Experimental","t":60,"q":7e-10},{"s":"Gas Inflow - Experimental","t":60.4,"q":2e-10},{"s":"Gas Inflow - Experimental","t":60.8,"q":2.6e-9},{"s":"Gas Inflow - Experimental","t":61.2,"q":3e-10},{"s":"Gas Inflow - Experimental","t":61.5,"q":1.2e-9},{"s":"Gas Inflow - Experimental","t":61.8,"q":2.27e-9},{"s":"Gas Inflow - Experimental","t":62.2,"q":4e-10},{"s":"Gas Inflow - Experimental","t":62.6,"q":1.3e-9},{"s":"Gas Inflow - Experimental","t":63,"q":5e-10},{"s":"Gas Inflow - Experimental","t":63.4,"q":1.6e-9},{"s":"Gas Inflow - Experimental","t":63.6,"q":4.4e-9},{"s":"Gas Inflow - Experimental","t":63.9,"q":8e-10},{"s":"Gas Inflow - Experimental","t":64.2,"q":2.5e-9},{"s":"Gas Inflow - Experimental","t":64.5,"q":1e-9},{"s":"Gas Inflow - Experimental","t":64.8,"q":2e-9},{"s":"Gas Inflow - Experimental","t":65.1,"q":9e-10},{"s":"Gas Inflow - Experimental","t":65.4,"q":1.7e-9},{"s":"Gas Inflow - Experimental","t":65.7,"q":8e-10},{"s":"Gas Inflow - Experimental","t":66,"q":1.4e-9},{"s":"Gas Inflow - Experimental","t":66.3,"q":6e-9},{"s":"Gas Inflow - Experimental","t":66.5,"q":3e-9},{"s":"Gas Inflow - Experimental","t":66.7,"q":1.62e-8},{"s":"Gas Inflow - Experimental","t":66.9,"q":9.5e-9},{"s":"Gas Inflow - Experimental","t":67,"q":8.6e-9},{"s":"Gas Inflow - Experimental","t":67.2,"q":1.25e-8},{"s":"Gas Inflow - Experimental","t":67.4,"q":1e-8},{"s":"Gas Inflow - Experimental","t":67.6,"q":1.28e-8},{"s":"Gas Inflow - Experimental","t":67.8,"q":9.8e-9},{"s":"Gas Inflow - Experimental","t":68,"q":1.35e-8},{"s":"Gas Inflow - Experimental","t":68.2,"q":1.05e-8},{"s":"Gas Inflow - Experimental","t":68.5,"q":9.05e-9},{"s":"Gas Inflow - Experimental","t":68.7,"q":1.2e-8},{"s":"Gas Inflow - Experimental","t":68.9,"q":1.02e-8},{"s":"Gas Inflow - Experimental","t":69.1,"q":1.3e-8},{"s":"Gas Inflow - Experimental","t":69.3,"q":1.45e-8},{"s":"Gas Inflow - Experimental","t":69.5,"q":1.1e-8},{"s":"Gas Inflow - Experimental","t":69.8,"q":9.75e-9},{"s":"Gas Inflow - Experimental","t":70,"q":1.25e-8},{"s":"Gas Inflow - Experimental","t":70.2,"q":1.08e-8},{"s":"Gas Inflow - Experimental","t":70.4,"q":1.44e-8},{"s":"Gas Inflow - Experimental","t":70.6,"q":1.15e-8},{"s":"Gas Inflow - Experimental","t":70.8,"q":1e-8},{"s":"Gas Inflow - Experimental","t":71,"q":1.29e-8},{"s":"Gas Inflow - Experimental","t":71.2,"q":3e-10},{"s":"Gas Inflow - Experimental","t":71.5,"q":6e-10},{"s":"Gas Inflow - Experimental","t":71.9,"q":2e-10},{"s":"Gas Inflow - Experimental","t":72.3,"q":5e-10},{"s":"Gas Inflow - Experimental","t":72.7,"q":1e-10},{"s":"Gas Inflow - Experimental","t":73.1,"q":6e-10},{"s":"Gas Inflow - Experimental","t":73.5,"q":2e-10},{"s":"Gas Inflow - Experimental","t":73.9,"q":5e-10},{"s":"Gas Inflow - Experimental","t":74.3,"q":1e-10},{"s":"Gas Inflow - Experimental","t":74.7,"q":7e-10},{"s":"Gas Inflow - Experimental","t":75.1,"q":2e-10},{"s":"Gas Inflow - Experimental","t":75.5,"q":5e-10},{"s":"Gas Inflow - Experimental","t":75.9,"q":1e-10},{"s":"Gas Inflow - Experimental","t":76.3,"q":6e-10},{"s":"Gas Inflow - Experimental","t":76.7,"q":3e-10},{"s":"Gas Inflow - Experimental","t":77.1,"q":7e-10},{"s":"Gas Inflow - Experimental","t":77.5,"q":2e-10},{"s":"Gas Inflow - Experimental","t":77.9,"q":9e-10},{"s":"Gas Inflow - Experimental","t":78.3,"q":4e-10},{"s":"Gas Inflow - Experimental","t":78.7,"q":1e-9},{"s":"Gas Inflow - Experimental","t":79.1,"q":3e-10},{"s":"Gas Inflow - Experimental","t":79.5,"q":1.1e-9},{"s":"Gas Inflow - Experimental","t":79.9,"q":4e-10},{"s":"Gas Inflow - Experimental","t":80.3,"q":1.3e-9},{"s":"Gas Inflow - Experimental","t":80.7,"q":5e-10},{"s":"Gas Inflow - Experimental","t":81.1,"q":1.2e-9},{"s":"Gas Inflow - Experimental","t":81.5,"q":4e-10},{"s":"Gas Inflow - Experimental","t":81.9,"q":1.1e-9},{"s":"Gas Inflow - Experimental","t":82.3,"q":3e-10},{"s":"Gas Inflow - Experimental","t":82.7,"q":1e-9},{"s":"Gas Inflow - Experimental","t":83.1,"q":5e-10},{"s":"Gas Inflow - Experimental","t":83.5,"q":1.2e-9},{"s":"Gas Inflow - Experimental","t":83.9,"q":2e-10},{"s":"Gas Inflow - Experimental","t":84.3,"q":9e-10},{"s":"Gas Inflow - Experimental","t":84.7,"q":4e-10},{"s":"Gas Inflow - Experimental","t":85.1,"q":8e-10},{"s":"Gas Inflow - Experimental","t":85.5,"q":2e-10},{"s":"Gas Inflow - Experimental","t":85.9,"q":7e-10},{"s":"Gas Inflow - Experimental","t":86.3,"q":3e-10},{"s":"Gas Inflow - Experimental","t":86.7,"q":8e-10},{"s":"Gas Inflow - Experimental","t":87.1,"q":2e-10},{"s":"Gas Inflow - Experimental","t":87.5,"q":9e-10},{"s":"Gas Inflow - Experimental","t":87.9,"q":4e-10},{"s":"Gas Inflow - Experimental","t":88.3,"q":7e-10},{"s":"Gas Inflow - Experimental","t":88.7,"q":2e-10},{"s":"Gas Inflow - Experimental","t":89.1,"q":8e-10},{"s":"Gas Inflow - Experimental","t":89.5,"q":3e-10},{"s":"Gas Inflow - Experimental","t":89.9,"q":1e-9},{"s":"Gas Inflow - Experimental","t":90.3,"q":4e-10},{"s":"Gas Inflow - Experimental","t":90.7,"q":8e-10},{"s":"Gas Inflow - Experimental","t":91.1,"q":2e-10},{"s":"Gas Inflow - Experimental","t":91.5,"q":1e-9},{"s":"Gas Inflow - Experimental","t":91.9,"q":3e-10},{"s":"Gas Inflow - Experimental","t":92.3,"q":1.2e-9},{"s":"Gas Inflow - Experimental","t":92.7,"q":4e-10},{"s":"Gas Inflow - Experimental","t":93.1,"q":1.1e-9},{"s":"Gas Inflow - Experimental","t":93.5,"q":3e-10},{"s":"Gas Inflow - Experimental","t":93.9,"q":1.3e-9},{"s":"Gas Inflow - Experimental","t":94.3,"q":5e-10},{"s":"Gas Inflow - Experimental","t":94.7,"q":1.2e-9},{"s":"Gas Inflow - Experimental","t":95.1,"q":4e-10},{"s":"Gas Inflow - Experimental","t":95.5,"q":1.3e-9},{"s":"Gas Inflow - Experimental","t":95.9,"q":6e-10},{"s":"Gas Inflow - Experimental","t":96.4,"q":1.45e-9},{"s":"Gas Inflow - Experimental","t":96.8,"q":5e-10},{"s":"Gas Inflow - Experimental","t":97,"q":0},{"s":"Gas Inflow - Experimental","t":97.9,"q":0},{"s":"Gas Inflow - Experimental","t":98.2,"q":9e-10},{"s":"Gas Inflow - Experimental","t":98.6,"q":4e-10},{"s":"Gas Inflow - Experimental","t":99,"q":8e-10},{"s":"Gas Inflow - Experimental","t":99.4,"q":2e-10},{"s":"Gas Inflow - Experimental","t":99.8,"q":7e-10},{"s":"Gas Inflow - Experimental","t":100.2,"q":1e-10},{"s":"Gas Inflow - Experimental","t":100.6,"q":6e-10},{"s":"Gas Inflow - Experimental","t":101,"q":3e-10},{"s":"Gas Inflow - Experimental","t":101.4,"q":8e-10},{"s":"Gas Inflow - Experimental","t":101.8,"q":1e-10},{"s":"Gas Inflow - Experimental","t":102.2,"q":5e-10},{"s":"Gas Inflow - Experimental","t":102.6,"q":2e-10},{"s":"Gas Inflow - Experimental","t":103,"q":9e-10},{"s":"Gas Inflow - Experimental","t":103.4,"q":1e-10},{"s":"Gas Inflow - Experimental","t":103.8,"q":7e-10},{"s":"Gas Inflow - Experimental","t":104.2,"q":1e-10},{"s":"Gas Inflow - Experimental","t":104.6,"q":2e-10},{"s":"Gas Inflow - Experimental","t":105,"q":1e-10},{"s":"Gas Inflow - Experimental","t":105.3,"q":4e-9},{"s":"Gas Inflow - Experimental","t":105.6,"q":3e-10},{"s":"Gas Inflow - Experimental","t":106,"q":1e-9},{"s":"Gas Inflow - Experimental","t":106.4,"q":3e-10},{"s":"Gas Inflow - Experimental","t":106.8,"q":8e-10},{"s":"Gas Inflow - Experimental","t":107.2,"q":2e-10},{"s":"Gas Inflow - Experimental","t":107.6,"q":7e-10},{"s":"Gas Inflow - Experimental","t":108,"q":1e-10},{"s":"Gas Inflow - Experimental","t":108.4,"q":6e-10},{"s":"Gas Inflow - Experimental","t":108.8,"q":3e-10},{"s":"Gas Inflow - Experimental","t":109.2,"q":9e-10},{"s":"Gas Inflow - Experimental","t":109.6,"q":2e-10},{"s":"Gas Inflow - Experimental","t":110,"q":1e-9},{"s":"Gas Inflow - Experimental","t":110.4,"q":4e-10},{"s":"Gas Inflow - Experimental","t":110.8,"q":9e-10},{"s":"Gas Inflow - Experimental","t":111.2,"q":3e-10},{"s":"Gas Inflow - Experimental","t":111.6,"q":8e-10},{"s":"Gas Inflow - Experimental","t":112,"q":2e-10},{"s":"Gas Inflow - Experimental","t":112.4,"q":9e-10},{"s":"Gas Inflow - Experimental","t":112.8,"q":3e-10},{"s":"Gas Inflow - Experimental","t":113.2,"q":7e-10},{"s":"Gas Inflow - Experimental","t":113.6,"q":2e-10},{"s":"Gas Inflow - Experimental","t":114,"q":8e-10},{"s":"Gas Inflow - Experimental","t":114.4,"q":1e-10},{"s":"Gas Inflow - Experimental","t":114.8,"q":6e-10},{"s":"Gas Inflow - Experimental","t":115.2,"q":2e-10},{"s":"Gas Inflow - Experimental","t":115.6,"q":7e-10},{"s":"Gas Inflow - Experimental","t":116,"q":1e-10},{"s":"Gas Inflow - Experimental","t":116.4,"q":5e-10},{"s":"Gas Inflow - Experimental","t":116.8,"q":2e-10},{"s":"Gas Inflow - Experimental","t":117.2,"q":6e-10},{"s":"Gas Inflow - Experimental","t":117.6,"q":1e-10},{"s":"Gas Inflow - Experimental","t":118,"q":5e-10},{"s":"Gas Inflow - Experimental","t":118.4,"q":2e-10},{"s":"Gas Inflow - Experimental","t":118.8,"q":6e-10},{"s":"Gas Inflow - Experimental","t":119.2,"q":1e-10},{"s":"Gas Inflow - Experimental","t":119.6,"q":5e-10},{"s":"Gas Inflow - Experimental","t":120,"q":3e-10},
{"s":"S5 - Total Gas Inflow","t":0,"q":0},{"s":"S5 - Total Gas Inflow","t":58,"q":0},{"s":"S5 - Total Gas Inflow","t":59.9,"q":5e-11},{"s":"S5 - Total Gas Inflow","t":61.6,"q":3.3e-10},{"s":"S5 - Total Gas Inflow","t":63,"q":7e-10},{"s":"S5 - Total Gas Inflow","t":63.8,"q":1.16e-9},{"s":"S5 - Total Gas Inflow","t":65.2,"q":2.06e-9},{"s":"S5 - Total Gas Inflow","t":66.3,"q":3.16e-9},{"s":"S5 - Total Gas Inflow","t":67.1,"q":4.4e-9},{"s":"S5 - Total Gas Inflow","t":67.9,"q":5.6e-9},{"s":"S5 - Total Gas Inflow","t":68.5,"q":6.5e-9},{"s":"S5 - Total Gas Inflow","t":69.1,"q":7.1e-9},{"s":"S5 - Total Gas Inflow","t":69.7,"q":7.42e-9},{"s":"S5 - Total Gas Inflow","t":70.4,"q":6.9e-9},{"s":"S5 - Total Gas Inflow","t":71.1,"q":6.05e-9},{"s":"S5 - Total Gas Inflow","t":71.9,"q":4.6e-9},{"s":"S5 - Total Gas Inflow","t":72.5,"q":3.16e-9},{"s":"S5 - Total Gas Inflow","t":73.3,"q":1.83e-9},{"s":"S5 - Total Gas Inflow","t":74,"q":8.3e-10},{"s":"S5 - Total Gas Inflow","t":74.7,"q":1.7e-10},{"s":"S5 - Total Gas Inflow","t":76,"q":5e-11},{"s":"S5 - Total Gas Inflow","t":88,"q":2e-11},{"s":"S5 - Total Gas Inflow","t":120,"q":0},
{"s":"S6 - Total Gas Inflow","t":0,"q":0},{"s":"S6 - Total Gas Inflow","t":60,"q":0},{"s":"S6 - Total Gas Inflow","t":61.6,"q":5e-11},{"s":"S6 - Total Gas Inflow","t":63,"q":1.2e-10},{"s":"S6 - Total Gas Inflow","t":64.4,"q":2.3e-10},{"s":"S6 - Total Gas Inflow","t":65.5,"q":3.3e-10},{"s":"S6 - Total Gas Inflow","t":66.5,"q":4e-10},{"s":"S6 - Total Gas Inflow","t":69.3,"q":4.3e-10},{"s":"S6 - Total Gas Inflow","t":70.7,"q":4.5e-10},{"s":"S6 - Total Gas Inflow","t":72.6,"q":3.5e-10},{"s":"S6 - Total Gas Inflow","t":75,"q":3e-10},{"s":"S6 - Total Gas Inflow","t":77.6,"q":2.5e-10},{"s":"S6 - Total Gas Inflow","t":80,"q":1.7e-10},{"s":"S6 - Total Gas Inflow","t":83.1,"q":8e-11},{"s":"S6 - Total Gas Inflow","t":86,"q":4e-11},{"s":"S6 - Total Gas Inflow","t":90,"q":2e-11},{"s":"S6 - Total Gas Inflow","t":100,"q":1e-11},{"s":"S6 - Total Gas Inflow","t":120,"q":0}
    ]},
    "mark": {"type": "line", "clip": true},
    "encoding": {
      "x": {"field": "t", "type": "quantitative"},
      "y": {"field": "q", "type": "quantitative", "scale": {"domain": [0, 2e-8], "nice": false, "zero": true},
        "axis": {"orient": "right", "title": "Flowrate (m³ s⁻¹)", "titleAngle": 270, "titleBaseline": "top", "labelOverlap": false, "values": [0,2e-9,4e-9,6e-9,8e-9,1e-8,1.2e-8,1.4e-8,1.6e-8,1.8e-8,2e-8],
          "labelExpr": "datum.value === 0 ? '1.00E-23' : (datum.value < 9.99e-9 ? format(datum.value*1e9, '.2f') + 'E-09' : format(datum.value*1e8, '.2f') + 'E-08')",
          "grid": false, "tickSize": 6, "labelPadding": 12, "titlePadding": 11}},
      "color": {"field": "s", "type": "nominal"},
      "strokeDash": {"field": "s", "type": "nominal"},
      "strokeWidth": {"field": "s", "type": "nominal", "scale": {"type": "ordinal"}}
    }
  }
  ]
}
]
}
